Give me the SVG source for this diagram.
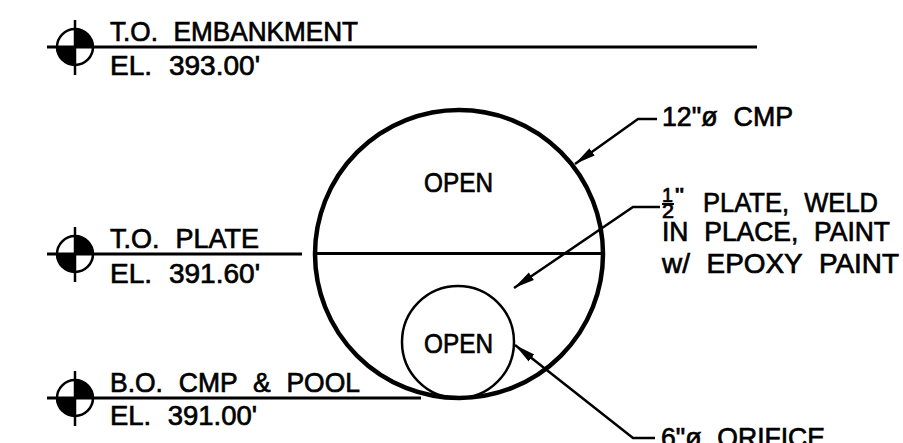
<svg xmlns="http://www.w3.org/2000/svg" width="903" height="443" viewBox="0 0 903 443">
<style>
text{font-family:"Liberation Sans",Arial,sans-serif;font-size:28px;fill:#000;stroke:#000;stroke-width:.7;word-spacing:9px}
.l{fill:none;stroke:#000;stroke-width:3}
.n{fill:none;stroke:#000;stroke-width:2.500}
.t{fill:none;stroke:#000;stroke-width:4.500}
.s{fill:none;stroke:#000;stroke-width:2.500}
.f{font-size:20px}
</style>
<defs>
<marker id="a" markerWidth="22" markerHeight="12" refX="21" refY="6" orient="auto" markerUnits="userSpaceOnUse"><path d="M0 1.500L21 6L0 10.500Z" fill="#000"/></marker>
<g id="sym">
<circle r="18" fill="none" stroke="#000" stroke-width="2.500"/>
<path d="M0 0V-18A18 18 0 0 1 18 0ZM0 0V18A18 18 0 0 1-18 0Z" fill="#000"/>
<path d="M0-27V28" stroke="#000" stroke-width="2.500"/>
</g>
</defs>
<rect width="903" height="443" fill="#fff"/>
<g id="connectors">
<path class="l" d="M47 47H757"/>
<path class="l" d="M47 254H302"/>
<path class="l" d="M47 398H421"/>
<path class="l" d="M314 253.500H603"/>
<path class="n" d="M657 119H638L575 164" marker-end="url(#a)"/>
<path class="n" d="M660 207H633L514 288" marker-end="url(#a)"/>
<path class="n" d="M655 438H633L515 345" marker-end="url(#a)"/>
</g>
<g id="cmp"><circle class="t" cx="459" cy="254" r="144"/><text x="424" y="192" textLength="69" lengthAdjust="spacingAndGlyphs">OPEN</text></g>
<g id="orifice"><circle class="s" cx="458" cy="342" r="56"/><text x="424" y="353" textLength="69" lengthAdjust="spacingAndGlyphs">OPEN</text></g>
<g id="embankment"><use href="#sym" x="75" y="47"/><text x="110" y="41" textLength="248" lengthAdjust="spacingAndGlyphs">T.O. EMBANKMENT</text><text x="110" y="75" textLength="150" lengthAdjust="spacingAndGlyphs">EL. 393.00'</text></g>
<g id="plate"><use href="#sym" x="75" y="254"/><text x="110" y="248" textLength="149" lengthAdjust="spacingAndGlyphs">T.O. PLATE</text><text x="110" y="283" textLength="150" lengthAdjust="spacingAndGlyphs">EL. 391.60'</text></g>
<g id="pool"><use href="#sym" x="75" y="398"/><text x="110" y="392" textLength="250" lengthAdjust="spacingAndGlyphs">B.O. CMP &amp; POOL</text><text x="110" y="425" textLength="147" lengthAdjust="spacingAndGlyphs">EL. 391.00'</text></g>
<g id="label-cmp"><text x="662" y="126" textLength="131" lengthAdjust="spacingAndGlyphs">12"ø CMP</text></g>
<g id="label-plate">
<text class="f" x="662" y="202" textLength="11" lengthAdjust="spacingAndGlyphs">1</text>
<path d="M662 204H674" stroke="#000" stroke-width="2"/>
<text class="f" x="662" y="218" textLength="12" lengthAdjust="spacingAndGlyphs">2</text>
<text class="f" x="675" y="202" textLength="9" lengthAdjust="spacingAndGlyphs">"</text>
<text x="703" y="212" textLength="175" lengthAdjust="spacingAndGlyphs">PLATE, WELD</text>
<text x="662" y="241" textLength="228" lengthAdjust="spacingAndGlyphs">IN PLACE, PAINT</text>
<text x="662" y="273" textLength="237" lengthAdjust="spacingAndGlyphs">w/ EPOXY PAINT</text>
</g>
<g id="label-orifice"><text x="661" y="447" textLength="164" lengthAdjust="spacingAndGlyphs">6"ø ORIFICE</text></g>
</svg>
